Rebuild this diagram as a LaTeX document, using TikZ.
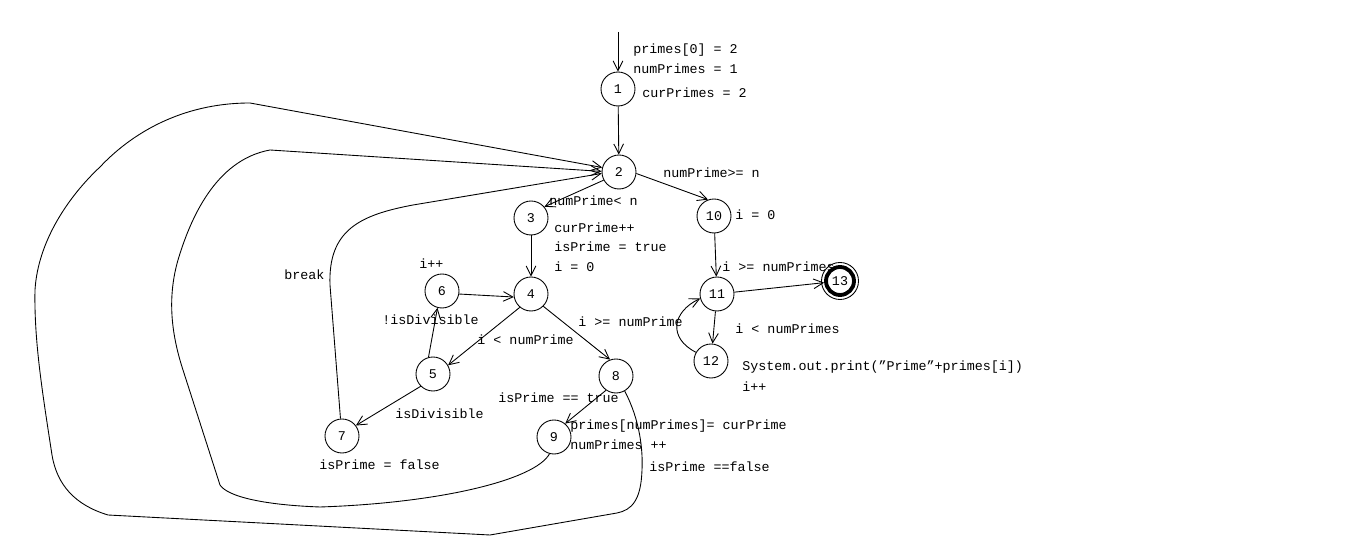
\documentclass[tikz,border=0pt]{standalone}
\usepackage{fontspec}
\setmonofont{Liberation Mono}
\usepackage{tikz}
\usetikzlibrary{arrows.meta}
\newcommand{\codefont}{\ttfamily\fontsize{7.6}{9}\selectfont}

\begin{document}
\begin{tikzpicture}[x=0.02cm, y=-0.02cm, line width=0.5pt,
		state/.style={circle, draw, minimum size=0.68cm, inner sep=0pt, font=\codefont},
		final/.style={state, minimum size=0.56cm, line width=2.2pt},
		lbl/.style={anchor=west, inner sep=0pt, font=\codefont},
		arr/.style={-{Straight Barb[length=5.5pt, width=5.5pt]}}]
			\useasboundingbox (0,0) rectangle (1360,536);
			\node[state] (n1) at (618,89) {1};
			\node[state] (n2) at (619,172) {2};
			\node[state] (n3) at (531,218) {3};
			\node[state] (n4) at (531,294) {4};
			\node[state] (n5) at (433,374) {5};
			\node[state] (n6) at (442,291) {6};
			\node[state] (n7) at (342,436) {7};
			\node[state] (n8) at (616,376) {8};
			\node[state] (n9) at (554,437) {9};
			\node[state] (n10) at (714,216) {10};
			\node[state] (n11) at (717,294) {11};
			\node[state] (n12) at (711,361) {12};
			\node[final] (n13) at (840,281) {13};
			\draw (n13) circle [radius=18.5];
			\coordinate (start) at (618,32);
			\node[lbl] (l1a) at (633,50) {primes[0] = 2};
			\node[lbl] (l1b) at (633,69) {numPrimes = 1};
			\node[lbl] (l1c) at (642,93) {curPrimes = 2};
			\node[lbl] (l2a) at (663,173) {numPrime>= n};
			\node[lbl] (l2b) at (549,201) {numPrime< n};
			\node[lbl] (l3a) at (554,228) {curPrime++};
			\node[lbl] (l3b) at (554,247) {isPrime = true};
			\node[lbl] (l3c) at (554,267) {i = 0};
			\node[lbl] (l10) at (735,215) {i = 0};
			\node[lbl] (l11a) at (722,267) {i >= numPrimes};
			\node[lbl] (l11b) at (735,329) {i < numPrimes};
			\node[lbl] (l12a) at (742,367) {System.out.print(”Prime”+primes[i])};
			\node[lbl] (l12b) at (742,387) {i++};
			\node[lbl] (l6) at (419,264) {i++};
			\node[lbl] (l7a) at (284,275) {break};
			\node[lbl] (l5a) at (382,320) {!isDivisible};
			\node[lbl] (l4a) at (477,340) {i < numPrime};
			\node[lbl] (l4b) at (578,322) {i >= numPrime};
			\node[lbl] (l5b) at (395,414) {isDivisible};
			\node[lbl] (l7b) at (319,465) {isPrime = false};
			\node[lbl] (l8a) at (498,398) {isPrime == true};
			\node[lbl] (l9a) at (570,426) {primes[numPrimes]= curPrime};
			\node[lbl] (l9b) at (570,445) {numPrimes ++};
			\node[lbl] (l8b) at (649,467) {isPrime ==false};
			\draw[arr] (start) -- (n1);
			\draw[arr] (n1) -- (n2);
			\draw[arr] (n2.-152) -- (n3.40);
			\draw[arr] (n2.-5) -- (n10.110);
			\draw[arr] (n3) -- (n4);
			\draw[arr] (n6.-10) -- (n4.-170);
			\draw[arr] (n4.-130) -- (n5.30);
			\draw[arr] (n5.105) -- (n6.-105);
			\draw[arr] (n5.-135) -- (n7.37);
			\draw[arr] (n4.-45) -- (n8.110);
			\draw[arr] (n8.-125) -- (n9.50);
			\draw[arr] (n10) -- (n11);
			\draw[arr] (n11) -- (n12);
			\draw[arr] (n11) -- (n13);
			\draw[arr] (n12.150) .. controls (668,338) and (672,312) .. (n11.-165);
			\draw[arr] (n7.95) -- (330,285) .. controls (328,230) and (360,215) .. (413,205) -- (n2.185);
			\draw[arr] (n9.-105) .. controls (535,480) and (440,503) .. (320,507) .. controls (265,505) and (228,497) .. (220,485) -- (183,370) .. controls (170,330) and (168,295) .. (178,260) .. controls (190,220) and (215,160) .. (270,150) -- (n2.178);
			\draw[arr] (n8.-60) .. controls (640,420) and (643,450) .. (642,470) .. controls (641,500) and (632,510) .. (617,513) -- (490,535) -- (108,515) .. controls (75,505) and (57,485) .. (52,455) .. controls (42,390) and (34,340) .. (35,290) .. controls (38,240) and (70,195) .. (100,167) .. controls (130,135) and (180,103) .. (250,103) -- (n2.165);
		\end{tikzpicture}
\end{document}
